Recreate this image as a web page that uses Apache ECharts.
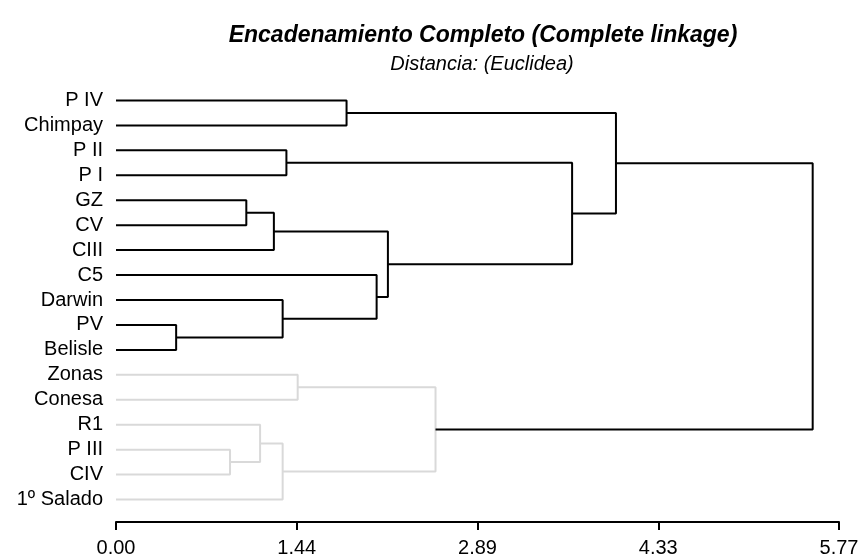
<!DOCTYPE html>
<html>
<head>
<meta charset="utf-8">
<script src="https://cdn.jsdelivr.net/npm/echarts@6/dist/echarts.min.js"></script>
<style>
  html, body { margin: 0; padding: 0; background: #fff; }
  #chart { width: 863px; height: 558px; }
</style>
</head>
<body>
<div id="chart"></div>
<script>
// hojas del dendrograma (de arriba hacia abajo)
const leaves = ['P IV', 'Chimpay', 'P II', 'P I', 'GZ', 'CV', 'CIII', 'C5', 'Darwin', 'PV', 'Belisle',
  'Zonas', 'Conesa', 'R1', 'P III', 'CIV', '1º Salado']
// uniones: [nodo a, nodo b, distancia]; nodos >= 17 son uniones previas
const mergeA = [9, 14, 4, 13, 19, 8, 20, 2, 11, 0, 7, 21, 25, 24, 26, 31]
const mergeB = [10, 15, 5, 18, 6, 17, 16, 3, 12, 1, 22, 27, 23, 28, 30, 29]
const mergeH = [0.48, 0.91, 1.04, 1.15, 1.26, 1.33, 1.33, 1.36, 1.45, 1.84, 2.08, 2.17, 2.55, 3.64, 3.99, 5.56]
// grupo dibujado en gris
const lightGroup = ['Zonas', 'Conesa', 'R1', 'P III', 'CIV', '1º Salado']
const tickLabels = ['0.00', '1.44', '2.89', '4.33', '5.77']
const axisMax = 5.77

const n = leaves.length
const posY = []
const height = []
const members = []
leaves.forEach((l, i) => { posY[i] = i; height[i] = 0; members[i] = [l] })

const series = []
mergeA.forEach((a, k) => {
  const b = mergeB[k]
  const h = mergeH[k]
  const id = n + k
  posY[id] = (posY[a] + posY[b]) / 2
  height[id] = h
  members[id] = members[a].concat(members[b])
  const light = members[id].every(m => lightGroup.includes(m))
  series.push({
    type: 'line',
    yAxisIndex: 1,
    symbol: 'none',
    silent: true,
    lineStyle: { color: light ? '#d9d9d9' : '#000', width: 2 },
    data: [[height[a], posY[a]], [h, posY[a]], [h, posY[b]], [height[b], posY[b]]]
  })
})

const chart = echarts.init(document.getElementById('chart'))
chart.setOption({
  animation: false,
  textStyle: { fontFamily: 'Liberation Sans, Arial, sans-serif' },
  title: [
    {
      text: 'Encadenamiento Completo (Complete linkage)',
      left: 478, top: 19, textAlign: 'center',
      textStyle: { fontSize: 23, fontWeight: 'bold', fontStyle: 'italic', color: '#000' }
    },
    {
      text: 'Distancia: (Euclidea)',
      left: 477, top: 49, textAlign: 'center',
      textStyle: { fontSize: 20, fontWeight: 'normal', fontStyle: 'italic', color: '#000' }
    }
  ],
  grid: { left: 116, right: 24, top: 88, height: 425 },
  xAxis: {
    type: 'value',
    position: 'bottom',
    min: 0,
    max: axisMax,
    interval: axisMax / 4,
    offset: 10,
    axisLine: { onZero: false, lineStyle: { color: '#000', width: 2 } },
    axisTick: { show: true, length: 8, lineStyle: { color: '#000', width: 2 } },
    splitLine: { show: false },
    axisLabel: {
      fontSize: 20, color: '#000', margin: 16,
      formatter: v => tickLabels[Math.round(v / (axisMax / 4))]
    }
  },
  yAxis: [
    {
      type: 'category',
      inverse: true,
      data: leaves,
      axisLine: { show: false },
      axisTick: { show: false },
      axisLabel: { fontSize: 20, color: '#000', margin: 13, interval: 0 }
    },
    {
      type: 'value',
      inverse: true,
      min: -0.5,
      max: n - 0.5,
      show: false,
      splitLine: { show: false }
    }
  ],
  series: series
})
window.onresize = () => { chart.resize() }
</script>
</body>
</html>
